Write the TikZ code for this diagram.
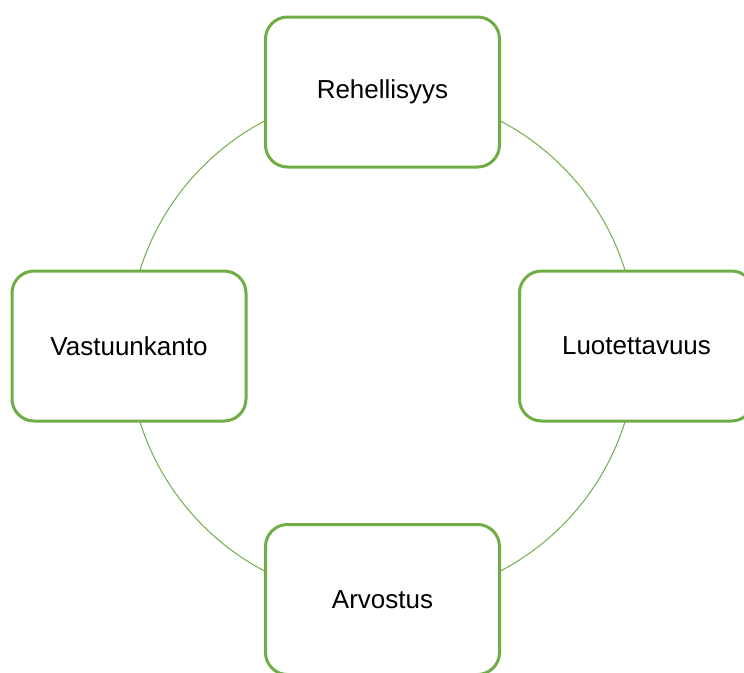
\documentclass[tikz,border=0pt]{standalone}
\usepackage{fontspec}
\setmainfont{Liberation Sans}
\definecolor{leaf}{HTML}{70AD47}
\begin{document}
\begin{tikzpicture}[x=1pt,y=-1pt,
  valuebox/.style={draw=leaf, line width=3pt, fill=white, rounded corners=22pt,
    minimum width=234pt, minimum height=150pt, inner sep=0pt,
    font=\fontsize{26}{30}\selectfont},
  ring/.style={draw=leaf, line width=1pt}]
  \useasboundingbox (0,0) rectangle (744,672);
  \coordinate (c) at (382.5,346);
  % ring connecting the four values
  \draw[ring] (c) circle[radius=254];
  \node[valuebox] (top) at (382.5,92) {Rehellisyys};
  \node[valuebox] (right) at (636.5,346) {Luotettavuus};
  \node[valuebox] (bottom) at (382.5,599.5) {Arvostus};
  \node[valuebox] (left) at (129,346) {Vastuunkanto};
\end{tikzpicture}
\end{document}
